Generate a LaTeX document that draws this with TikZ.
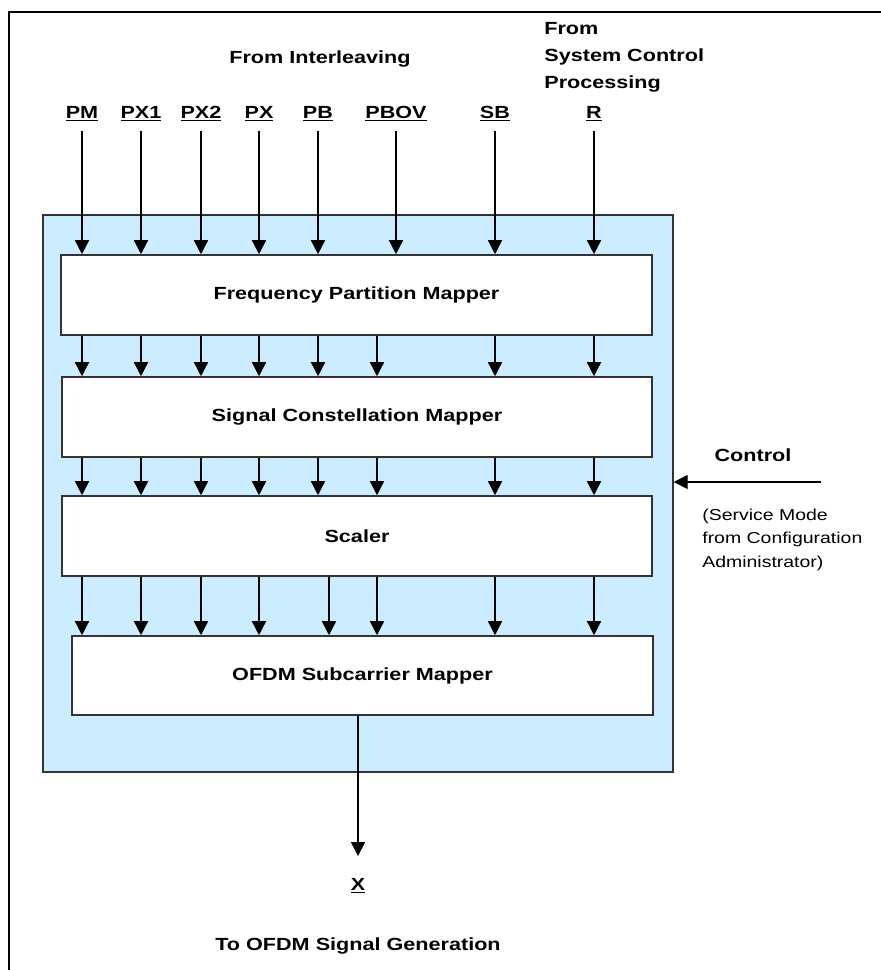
\documentclass[tikz,border=0pt]{standalone}
\usepackage{fontspec}
\setmainfont{Liberation Sans}[FakeStretch=1.23]
\usepackage{xcolor}
\usetikzlibrary{arrows.meta,positioning}
\definecolor{panelblue}{RGB}{204,236,255}

\begin{document}
\begin{tikzpicture}[x=0.02cm,y=-0.02cm,
  mapbox/.style={draw=black!80,line width=0.9pt,fill=white,font=\bfseries},
  sig/.style={-{Triangle[length=0.28cm,width=0.28cm]},line width=0.8pt},
  tag/.style={font=\bfseries,anchor=base,outer sep=2pt},
  note/.style={font=\fontsize{9}{13.4}\selectfont,align=left,inner sep=0pt}]
  \useasboundingbox (0,0) rectangle (881,970);
  \draw[line width=1.4pt] (9,970) -- (9,12) -- (881,12);
  \node[draw=black!80,line width=0.9pt,fill=panelblue,minimum width=12.6cm,minimum height=11.14cm] (blk) at (358,493.5) {};
  \node[mapbox,minimum width=11.82cm,minimum height=1.6cm] (fpm) at (356.5,295) {Frequency Partition Mapper};
  \node[mapbox,minimum width=11.8cm,minimum height=1.6cm] (scm) at (357,417) {Signal Constellation Mapper};
  \node[mapbox,minimum width=11.8cm,minimum height=1.6cm] (scl) at (357,536) {Scaler};
  \node[mapbox,minimum width=11.62cm,minimum height=1.58cm] (ofdm) at (362.5,675.5) {OFDM Subcarrier Mapper};
  % inputs
  \node[tag] (src) at (320,63) {From Interleaving};
  \node[font=\bfseries\fontsize{10}{15.4}\selectfont,align=left,anchor=north west,inner sep=0pt] (scp) at (544,22.4) {From\\System Control\\Processing};
  \foreach \x/\s in {82/PM,141/PX1,201/PX2,259/PX,318/PB,396/PBOV,495/SB,594/R}{
    \node[tag] (\s) at (\x,118) {\underline{\s}};
    \draw[sig] (\s.south) -- (\s.south |- fpm.north);
  }
  \foreach \x in {82,141,201,259,318,377,495,594}{
    \draw[sig] (\x,0 |- fpm.south) -- (\x,0 |- scm.north);
    \draw[sig] (\x,0 |- scm.south) -- (\x,0 |- scl.north);
  }
  \foreach \x in {82,141,201,259,329,377,495,594}
    \draw[sig] (\x,0 |- scl.south) -- (\x,0 |- ofdm.north);
  % control
  \node[tag] (ctl) at (753,461) {Control};
  \coordinate (ctlin) at (821,482);
  \draw[sig] (ctlin) -- (ctlin -| blk.east);
  \node[note,anchor=north west] (svc) at (702,508.3) {(Service Mode\\from Configuration\\Administrator)};
  % output
  \node[tag] (xout) at (358,890) {\underline{X}};
  \draw[sig] (ofdm.south -| xout) -- ([yshift=0.25cm]xout.north);
  \node[tag] (dst) at (358,950) {To OFDM Signal Generation};
\end{tikzpicture}
\end{document}
